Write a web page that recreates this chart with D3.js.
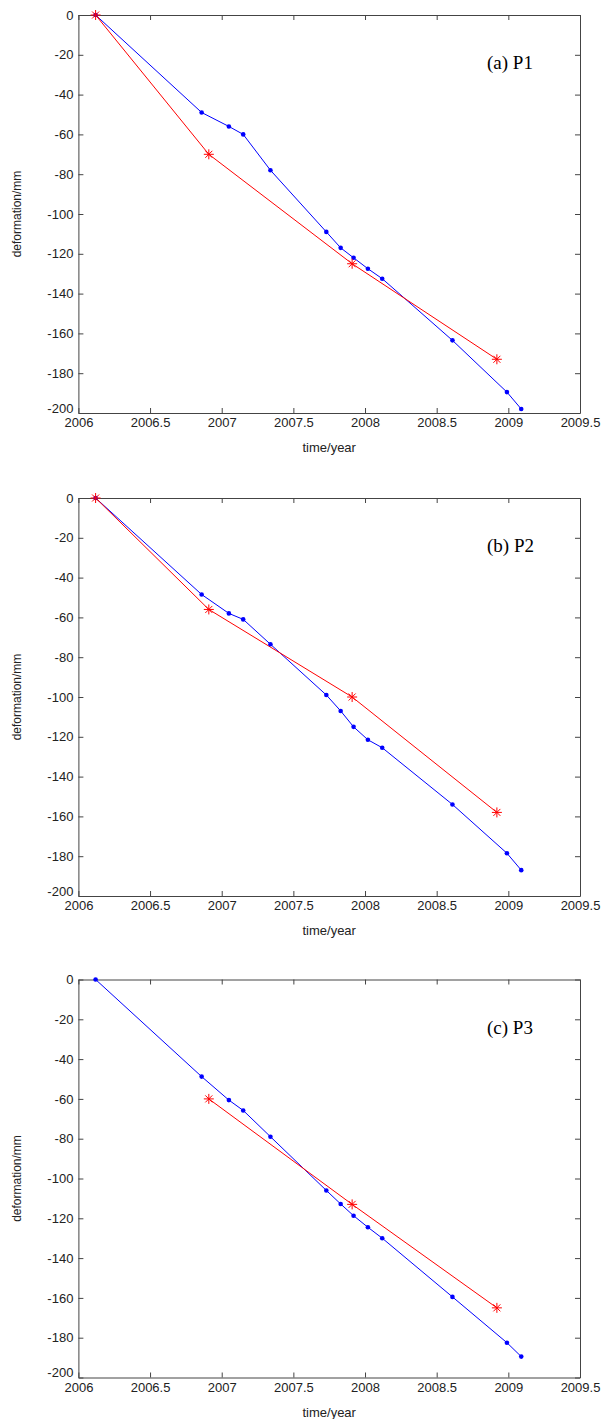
<!DOCTYPE html>
<html>
<head>
<meta charset="utf-8">
<script src="https://cdn.jsdelivr.net/npm/d3@7"></script>
<style>
body { margin: 0; background: #fff; }
.tick text { font-family: "Liberation Sans", Arial, sans-serif; font-size: 13px; fill: #222; }
.axis path, .axis line { stroke: #444; }
</style>
</head>
<body>
<script>
// Messzeitpunkte (Jahr)
var blueTime = [2006.12, 2006.86, 2007.05, 2007.15, 2007.34, 2007.73, 2007.83, 2007.92, 2008.02, 2008.12, 2008.61, 2008.99, 2009.09];
var redTime = [2006.12, 2006.91, 2007.91, 2008.92];

// Verformung in mm
var p1Blue = [0, -49, -56, -60, -78, -109, -117, -122, -127.5, -132.5, -163.5, -189.5, -198];
var p1Red = [0, -70, -125, -173];
var p2Blue = [0, -48.5, -58, -61, -73.5, -99, -107, -115, -121.5, -125.5, -154, -178.5, -187];
var p2Red = [0, -56, -100, -158];
var p3Blue = [0, -48.8, -60.6, -65.8, -79, -106, -112.8, -118.7, -124.5, -130, -159.5, -182.5, -189.5];
var p3Red = [null, -60, -113, -165];

var panelNames = ["(a) P1", "(b) P2", "(c) P3"];
var xTicks = [2006, 2006.5, 2007, 2007.5, 2008, 2008.5, 2009, 2009.5];
var yTicks = [0, -20, -40, -60, -80, -100, -120, -140, -160, -180, -200];

var panels = [
  {name: panelNames[0], blue: p1Blue, red: p1Red, top: 15},
  {name: panelNames[1], blue: p2Blue, red: p2Red, top: 498},
  {name: panelNames[2], blue: p3Blue, red: p3Red, top: 979.5}
];

var left = 78.4, right = 580, plotH = 398;

var svg = d3.select("body").append("svg")
  .attr("width", 615)
  .attr("height", 1419);

var xScale = d3.scaleLinear().domain([2006, 2009.5]).range([0, right - left]);
var yScale = d3.scaleLinear().domain([-200, 0]).range([plotH, 0]);
var w = right - left;

panels.forEach(function (p) {
  var g = svg.append("g").attr("transform", "translate(" + left + "," + p.top + ")");

  // Rahmen mit Ticks nach innen
  g.append("g").attr("class", "axis")
    .attr("transform", "translate(0," + plotH + ")")
    .call(d3.axisBottom(xScale).tickValues(xTicks).tickSize(-5).tickSizeOuter(0).tickPadding(5).tickFormat(function (d) { return String(d); }));
  g.append("g").attr("class", "axis")
    .call(d3.axisTop(xScale).tickValues(xTicks).tickSize(-5).tickSizeOuter(0).tickFormat(""));
  var yAx = g.append("g").attr("class", "axis")
    .call(d3.axisLeft(yScale).tickValues(yTicks).tickSize(-5).tickSizeOuter(0).tickPadding(5).tickFormat(function (d) { return String(d); }));
  // -200 etwas hoch, damit es nicht mit 2006 kollidiert
  yAx.selectAll(".tick text").filter(function (d) { return d === -200; }).attr("dy", "-0.05em");
  g.append("g").attr("class", "axis")
    .attr("transform", "translate(" + w + ",0)")
    .call(d3.axisRight(yScale).tickValues(yTicks).tickSize(-5).tickSizeOuter(0).tickFormat(""));

  g.selectAll(".axis .domain").attr("stroke", "#444");

  // Achsentitel
  g.append("text")
    .attr("x", w / 2).attr("y", plotH + 39)
    .attr("text-anchor", "middle")
    .style("font-family", "Liberation Sans, Arial, sans-serif").style("font-size", "13px").style("fill", "#222")
    .text("time/year");
  g.append("text")
    .attr("transform", "translate(" + (-57) + "," + (plotH / 2) + ") rotate(-90)")
    .attr("text-anchor", "middle")
    .style("font-family", "Liberation Sans, Arial, sans-serif").style("font-size", "12px").style("fill", "#222")
    .text("deformation/mm");

  // Panel Beschriftung
  g.append("text")
    .attr("x", w - 93).attr("y", 54)
    .style("font-family", "Liberation Serif, Times New Roman, serif").style("font-size", "19px").style("fill", "#000")
    .text(p.name);

  var line = d3.line()
    .defined(function (d) { return d[1] != null; })
    .x(function (d) { return xScale(d[0]); })
    .y(function (d) { return yScale(d[1]); });

  var blueData = blueTime.map(function (t, i) { return [t, p.blue[i]]; });
  var redData = redTime.map(function (t, i) { return [t, p.red[i]]; }).filter(function (d) { return d[1] != null; });

  g.append("path").datum(blueData)
    .attr("d", line).attr("fill", "none").attr("stroke", "#0000ff").attr("stroke-width", 1);
  g.append("path").datum(redData)
    .attr("d", line).attr("fill", "none").attr("stroke", "#ff0000").attr("stroke-width", 1);

  // blaue Punkte
  g.selectAll(".dot").data(blueData).enter().append("circle")
    .attr("cx", function (d) { return xScale(d[0]); })
    .attr("cy", function (d) { return yScale(d[1]); })
    .attr("r", 2.3).attr("fill", "#0000ff");

  // rote Sterne
  var star = g.selectAll(".star").data(redData).enter().append("g")
    .attr("transform", function (d) { return "translate(" + xScale(d[0]) + "," + yScale(d[1]) + ")"; });
  star.append("path")
    .attr("d", "M-5,0H5M0,-5V5M-3.5,-3.5L3.5,3.5M-3.5,3.5L3.5,-3.5")
    .attr("stroke", "#ff0000").attr("stroke-width", 1);
});
</script>
</body>
</html>
